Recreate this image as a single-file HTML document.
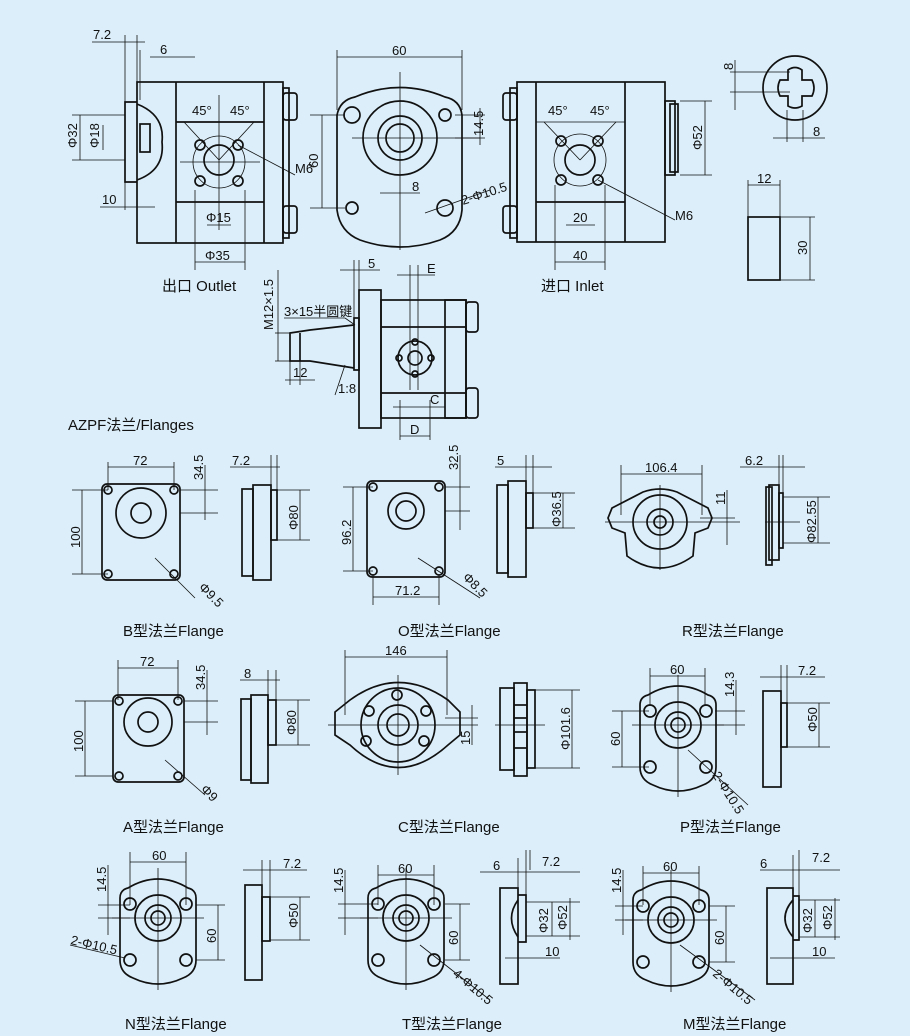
<!DOCTYPE html>
<html><head><meta charset="utf-8"><style>
html,body{margin:0;padding:0;background:#dbeef9;}
svg{display:block}
text{font-family:"Liberation Sans","Noto Sans CJK SC",sans-serif;fill:#111;font-size:13px}
.c{font-size:15px}
</style></head><body>
<svg width="910" height="1036" viewBox="0 0 910 1036" xmlns="http://www.w3.org/2000/svg">
<defs>
<g id="rf" fill="none" stroke="#111" stroke-width="1.7">
<path d="M-38,-20 Q-38,-28 -30,-30 Q0,-48 30,-30 Q38,-28 38,-20 L38,42 Q38,55 25,60 Q0,72 -25,60 Q-38,55 -38,42 Z"/>
<circle r="23"/><circle r="13"/><circle r="7"/>
<circle cx="-28" cy="-14" r="6"/><circle cx="28" cy="-14" r="6"/>
<circle cx="-28" cy="42" r="6"/><circle cx="28" cy="42" r="6"/>
<g stroke-width="0.8"><line x1="-46" y1="0" x2="46" y2="0"/><line x1="0" y1="-50" x2="0" y2="72"/></g>
</g>
</defs>
<g fill="none" stroke="#111" stroke-width="1.7">
<rect x="137" y="82" width="146" height="161"/>
<line x1="176" y1="82" x2="176" y2="243"/><line x1="264" y1="82" x2="264" y2="243"/>
<line x1="176" y1="122" x2="264" y2="122"/><line x1="176" y1="202" x2="264" y2="202"/>
<rect x="283" y="88" width="6" height="150"/>
<rect x="283" y="93" width="14" height="27" rx="3"/><rect x="283" y="206" width="14" height="27" rx="3"/>
<path d="M137,102 L125,102 L125,182 L137,182"/>
<path d="M137,104 Q165,115 162,142 Q165,170 137,180"/>
<rect x="140" y="124" width="10" height="28"/>
<circle cx="219" cy="160" r="15"/>
<circle cx="200" cy="145" r="5"/><circle cx="238" cy="145" r="5"/><circle cx="200" cy="181" r="5"/><circle cx="238" cy="181" r="5"/>
<circle cx="219" cy="162" r="26" stroke-width="0.8"/>
<path d="M337,115 Q340,100 355,97 Q400,78 445,97 Q460,100 462,115 L462,210 Q460,232 440,240 Q400,254 360,240 Q340,232 337,210 Z"/>
<circle cx="400" cy="138" r="37"/><circle cx="400" cy="138" r="22"/><circle cx="400" cy="138" r="14"/>
<circle cx="352" cy="115" r="8"/><circle cx="445" cy="115" r="6"/><circle cx="352" cy="208" r="6"/><circle cx="445" cy="208" r="8"/>
<rect x="517" y="82" width="148" height="160"/>
<line x1="536" y1="82" x2="536" y2="242"/><line x1="625" y1="82" x2="625" y2="242"/>
<line x1="536" y1="202" x2="625" y2="202"/>
<rect x="510" y="88" width="7" height="150"/>
<rect x="503" y="93" width="14" height="27" rx="3"/><rect x="503" y="206" width="14" height="27" rx="3"/>
<rect x="665" y="101" width="10" height="74"/><rect x="670" y="104" width="8" height="68"/>
<circle cx="580" cy="160" r="15"/>
<circle cx="561" cy="141" r="5"/><circle cx="598" cy="141" r="5"/><circle cx="561" cy="180" r="5"/><circle cx="598" cy="180" r="5"/>
<circle cx="580" cy="160" r="26" stroke-width="0.8"/>
<circle cx="795" cy="88" r="32"/>
<path d="M780,80 L788,80 L788,70 Q795,65 802,70 L802,80 L812,80 Q816,88 812,96 L802,96 L802,106 Q795,110 788,106 L788,96 L780,96 Q776,88 780,80 Z"/>
<rect x="748" y="217" width="32" height="63"/>
<rect x="359" y="290" width="22" height="138"/>
<rect x="381" y="300" width="85" height="118"/>
<line x1="381" y1="327" x2="466" y2="327"/><line x1="381" y1="393" x2="466" y2="393"/>
<rect x="445" y="300" width="21" height="118"/>
<rect x="466" y="302" width="12" height="30" rx="3"/><rect x="466" y="388" width="12" height="30" rx="3"/>
<rect x="354" y="318" width="5" height="52"/>
<path d="M354,325 L310,330 L290,333 L290,361 L310,361 L354,368"/>
<line x1="300" y1="333" x2="300" y2="361"/>
<circle cx="415" cy="358" r="17"/><circle cx="415" cy="358" r="7"/>
<circle cx="415" cy="342" r="3"/><circle cx="399" cy="358" r="3"/><circle cx="431" cy="358" r="3"/><circle cx="415" cy="374" r="3"/>
<rect x="102" y="484" width="78" height="96" rx="5"/>
<circle cx="141" cy="513" r="25"/><circle cx="141" cy="513" r="10"/>
<circle cx="108" cy="490" r="4"/><circle cx="174" cy="490" r="4"/><circle cx="108" cy="574" r="4"/><circle cx="174" cy="574" r="4"/>
<rect x="242" y="489" width="11" height="87"/><rect x="253" y="485" width="18" height="95"/><rect x="271" y="490" width="6" height="50"/>
<rect x="367" y="481" width="78" height="96" rx="5"/>
<circle cx="406" cy="511" r="18"/><circle cx="406" cy="511" r="10"/>
<circle cx="373" cy="487" r="4"/><circle cx="439" cy="487" r="4"/><circle cx="373" cy="571" r="4"/><circle cx="439" cy="571" r="4"/>
<rect x="497" y="485" width="11" height="88"/><rect x="508" y="481" width="18" height="96"/><rect x="526" y="493" width="7" height="35"/>
<path d="M612,508 L643,492 Q660,486 677,492 L708,508 L712,518 L708,528 L695,533 L693,556 Q660,580 627,556 L625,533 L612,528 L608,518 Z"/>
<circle cx="660" cy="522" r="27"/><circle cx="660" cy="522" r="13"/><circle cx="660" cy="522" r="6"/>
<rect x="766" y="487" width="6" height="78"/><rect x="769" y="485" width="10" height="75"/><rect x="779" y="493" width="4" height="55"/>
<rect x="113" y="695" width="71" height="87" rx="5"/>
<circle cx="148" cy="722" r="24"/><circle cx="148" cy="722" r="10"/>
<circle cx="119" cy="701" r="4"/><circle cx="178" cy="701" r="4"/><circle cx="119" cy="776" r="4"/><circle cx="178" cy="776" r="4"/>
<rect x="241" y="699" width="10" height="81"/><rect x="251" y="695" width="17" height="88"/><rect x="268" y="700" width="8" height="45"/>
<path d="M335,712 L350,700 Q398,665 448,700 L460,712 L460,735 L448,745 Q398,790 350,745 L335,735 Z"/>
<circle cx="398" cy="725" r="37"/><circle cx="398" cy="725" r="20"/><circle cx="398" cy="725" r="11"/>
<circle cx="397" cy="695" r="5"/><circle cx="369" cy="711" r="5"/><circle cx="426" cy="711" r="5"/><circle cx="366" cy="741" r="5"/><circle cx="424" cy="741" r="5"/>
<rect x="500" y="688" width="14" height="82"/><rect x="514" y="683" width="13" height="93"/><rect x="527" y="690" width="8" height="78"/>
<line x1="514" y1="705" x2="527" y2="705"/><line x1="514" y1="718" x2="527" y2="718"/><line x1="514" y1="732" x2="527" y2="732"/><line x1="514" y1="748" x2="527" y2="748"/>
<rect x="763" y="691" width="18" height="96"/><rect x="781" y="703" width="6" height="44"/>
<rect x="245" y="885" width="17" height="95"/><rect x="262" y="897" width="8" height="44"/>
<rect x="500" y="888" width="18" height="96"/><path d="M518,895 L526,895 L526,942 L518,942"/><path d="M518,900 Q505,918 518,937"/>
<rect x="767" y="888" width="26" height="96"/><path d="M793,896 L799,896 L799,940 L793,940"/><path d="M793,900 Q777,918 793,937"/>
</g>
<use href="#rf" x="158" y="918"/>
<use href="#rf" x="406" y="918"/>
<use href="#rf" x="671" y="920"/>
<use href="#rf" x="678" y="725"/>
<g stroke="#111" stroke-width="0.8" fill="none">
<line x1="92" y1="42" x2="145" y2="42"/><line x1="125" y1="35" x2="125" y2="210"/><line x1="137" y1="35" x2="137" y2="82"/>
<line x1="150" y1="57" x2="195" y2="57"/><line x1="140" y1="50" x2="140" y2="100"/>
<line x1="100" y1="207" x2="155" y2="207"/>
<line x1="72" y1="115" x2="125" y2="115"/><line x1="72" y1="160" x2="125" y2="160"/>
<line x1="80" y1="115" x2="80" y2="160"/>
<line x1="103" y1="125" x2="103" y2="150"/>
<line x1="195" y1="190" x2="195" y2="270"/><line x1="245" y1="190" x2="245" y2="270"/><line x1="195" y1="262" x2="245" y2="262"/>
<line x1="207" y1="225" x2="231" y2="225"/>
<line x1="184" y1="122" x2="219" y2="160"/><line x1="254" y1="122" x2="219" y2="160"/>
<line x1="238" y1="145" x2="295" y2="175"/>
<line x1="219" y1="95" x2="219" y2="230"/><line x1="180" y1="162" x2="260" y2="162"/>
<line x1="337" y1="57" x2="462" y2="57"/><line x1="337" y1="50" x2="337" y2="110"/><line x1="462" y1="50" x2="462" y2="110"/>
<line x1="322" y1="115" x2="322" y2="208"/><line x1="310" y1="115" x2="345" y2="115"/><line x1="310" y1="208" x2="345" y2="208"/>
<line x1="455" y1="115" x2="485" y2="115"/><line x1="455" y1="138" x2="485" y2="138"/><line x1="480" y1="108" x2="480" y2="145"/>
<line x1="380" y1="193" x2="420" y2="193"/><line x1="400" y1="72" x2="400" y2="250"/><line x1="352" y1="138" x2="480" y2="138"/>
<line x1="425" y1="213" x2="490" y2="190"/>
<line x1="544" y1="122" x2="580" y2="160"/><line x1="616" y1="122" x2="580" y2="160"/><line x1="536" y1="122" x2="625" y2="122"/>
<line x1="598" y1="180" x2="675" y2="220"/>
<line x1="555" y1="185" x2="555" y2="270"/><line x1="605" y1="185" x2="605" y2="270"/><line x1="555" y1="262" x2="605" y2="262"/>
<line x1="566" y1="225" x2="595" y2="225"/>
<line x1="680" y1="101" x2="712" y2="101"/><line x1="680" y1="175" x2="712" y2="175"/><line x1="705" y1="101" x2="705" y2="175"/>
<line x1="730" y1="72" x2="790" y2="72"/><line x1="730" y1="92" x2="790" y2="92"/><line x1="735" y1="60" x2="735" y2="110"/>
<line x1="787" y1="110" x2="787" y2="142"/><line x1="803" y1="110" x2="803" y2="142"/><line x1="773" y1="138" x2="825" y2="138"/>
<line x1="748" y1="180" x2="748" y2="217"/><line x1="780" y1="180" x2="780" y2="217"/><line x1="748" y1="185" x2="780" y2="185"/>
<line x1="780" y1="217" x2="815" y2="217"/><line x1="780" y1="280" x2="815" y2="280"/><line x1="810" y1="217" x2="810" y2="280"/>
<line x1="340" y1="270" x2="380" y2="270"/><line x1="354" y1="260" x2="354" y2="318"/><line x1="359" y1="260" x2="359" y2="290"/>
<line x1="397" y1="275" x2="435" y2="275"/><line x1="410" y1="265" x2="410" y2="390"/><line x1="418" y1="265" x2="418" y2="390"/>
<line x1="393" y1="407" x2="445" y2="407"/><line x1="400" y1="400" x2="400" y2="440"/><line x1="430" y1="400" x2="430" y2="440"/>
<line x1="400" y1="436" x2="430" y2="436"/>
<line x1="275" y1="333" x2="290" y2="333"/><line x1="275" y1="361" x2="290" y2="361"/><line x1="278" y1="270" x2="278" y2="361"/>
<line x1="290" y1="361" x2="290" y2="385"/><line x1="300" y1="361" x2="300" y2="385"/><line x1="285" y1="380" x2="315" y2="380"/>
<line x1="284" y1="318" x2="345" y2="318"/><line x1="345" y1="318" x2="355" y2="325"/>
<line x1="335" y1="395" x2="345" y2="365"/>
<line x1="108" y1="462" x2="108" y2="490"/><line x1="174" y1="462" x2="174" y2="490"/><line x1="108" y1="467" x2="174" y2="467"/>
<line x1="72" y1="490" x2="108" y2="490"/><line x1="72" y1="574" x2="108" y2="574"/><line x1="82" y1="490" x2="82" y2="574"/>
<line x1="180" y1="490" x2="218" y2="490"/><line x1="180" y1="513" x2="218" y2="513"/><line x1="205" y1="465" x2="205" y2="520"/>
<line x1="155" y1="558" x2="195" y2="598"/>
<line x1="230" y1="467" x2="280" y2="467"/><line x1="271" y1="455" x2="271" y2="485"/><line x1="277" y1="455" x2="277" y2="490"/>
<line x1="277" y1="490" x2="310" y2="490"/><line x1="277" y1="540" x2="310" y2="540"/><line x1="300" y1="490" x2="300" y2="540"/>
<line x1="343" y1="487" x2="373" y2="487"/><line x1="343" y1="571" x2="373" y2="571"/><line x1="353" y1="487" x2="353" y2="571"/>
<line x1="445" y1="487" x2="470" y2="487"/><line x1="445" y1="511" x2="470" y2="511"/><line x1="460" y1="455" x2="460" y2="530"/>
<line x1="373" y1="575" x2="373" y2="605"/><line x1="439" y1="575" x2="439" y2="605"/><line x1="373" y1="597" x2="439" y2="597"/>
<line x1="418" y1="558" x2="480" y2="598"/>
<line x1="495" y1="467" x2="552" y2="467"/><line x1="526" y1="455" x2="526" y2="481"/><line x1="533" y1="455" x2="533" y2="493"/>
<line x1="533" y1="493" x2="575" y2="493"/><line x1="533" y1="528" x2="575" y2="528"/><line x1="563" y1="493" x2="563" y2="528"/>
<line x1="621" y1="465" x2="621" y2="515"/><line x1="702" y1="465" x2="702" y2="515"/><line x1="621" y1="474" x2="702" y2="474"/>
<line x1="605" y1="522" x2="740" y2="522"/><line x1="660" y1="485" x2="660" y2="570"/>
<line x1="700" y1="518" x2="735" y2="518"/><line x1="727" y1="490" x2="727" y2="545"/>
<line x1="740" y1="467" x2="805" y2="467"/><line x1="779" y1="455" x2="779" y2="485"/><line x1="783" y1="455" x2="783" y2="493"/>
<line x1="783" y1="497" x2="830" y2="497"/><line x1="783" y1="543" x2="830" y2="543"/><line x1="818" y1="497" x2="818" y2="543"/>
<line x1="765" y1="522" x2="800" y2="522"/>
<line x1="118" y1="660" x2="118" y2="700"/><line x1="178" y1="660" x2="178" y2="700"/><line x1="118" y1="668" x2="178" y2="668"/>
<line x1="75" y1="701" x2="113" y2="701"/><line x1="75" y1="776" x2="113" y2="776"/><line x1="85" y1="701" x2="85" y2="776"/>
<line x1="184" y1="701" x2="218" y2="701"/><line x1="184" y1="722" x2="218" y2="722"/><line x1="207" y1="670" x2="207" y2="735"/>
<line x1="165" y1="760" x2="205" y2="795"/>
<line x1="240" y1="680" x2="280" y2="680"/><line x1="268" y1="670" x2="268" y2="695"/><line x1="276" y1="670" x2="276" y2="700"/>
<line x1="276" y1="700" x2="310" y2="700"/><line x1="276" y1="745" x2="310" y2="745"/><line x1="298" y1="700" x2="298" y2="745"/>
<line x1="345" y1="650" x2="345" y2="715"/><line x1="447" y1="650" x2="447" y2="715"/><line x1="345" y1="657" x2="447" y2="657"/>
<line x1="328" y1="725" x2="478" y2="725"/><line x1="398" y1="675" x2="398" y2="775"/>
<line x1="445" y1="718" x2="478" y2="718"/><line x1="472" y1="705" x2="472" y2="745"/>
<line x1="535" y1="690" x2="580" y2="690"/><line x1="535" y1="768" x2="580" y2="768"/><line x1="572" y1="690" x2="572" y2="768"/>
<line x1="495" y1="725" x2="545" y2="725"/>
<line x1="650" y1="668" x2="650" y2="705"/><line x1="705" y1="668" x2="705" y2="705"/><line x1="650" y1="676" x2="705" y2="676"/>
<line x1="612" y1="711" x2="649" y2="711"/><line x1="612" y1="767" x2="649" y2="767"/><line x1="622" y1="711" x2="622" y2="767"/>
<line x1="715" y1="711" x2="745" y2="711"/><line x1="715" y1="725" x2="745" y2="725"/><line x1="736" y1="680" x2="736" y2="735"/>
<line x1="688" y1="750" x2="748" y2="805"/>
<line x1="760" y1="677" x2="825" y2="677"/><line x1="781" y1="665" x2="781" y2="691"/><line x1="787" y1="665" x2="787" y2="703"/>
<line x1="787" y1="703" x2="830" y2="703"/><line x1="787" y1="747" x2="830" y2="747"/><line x1="819" y1="703" x2="819" y2="747"/>
<line x1="130" y1="852" x2="130" y2="905"/><line x1="186" y1="852" x2="186" y2="905"/><line x1="130" y1="862" x2="186" y2="862"/>
<line x1="98" y1="905" x2="130" y2="905"/><line x1="98" y1="918" x2="130" y2="918"/><line x1="108" y1="865" x2="108" y2="935"/>
<line x1="196" y1="905" x2="225" y2="905"/><line x1="196" y1="960" x2="225" y2="960"/><line x1="218" y1="905" x2="218" y2="960"/>
<line x1="70" y1="945" x2="125" y2="958"/>
<line x1="243" y1="870" x2="307" y2="870"/><line x1="262" y1="860" x2="262" y2="885"/><line x1="270" y1="860" x2="270" y2="897"/>
<line x1="270" y1="897" x2="310" y2="897"/><line x1="270" y1="940" x2="310" y2="940"/><line x1="300" y1="897" x2="300" y2="940"/>
<line x1="378" y1="865" x2="378" y2="905"/><line x1="434" y1="865" x2="434" y2="905"/><line x1="378" y1="875" x2="434" y2="875"/>
<line x1="338" y1="904" x2="378" y2="904"/><line x1="338" y1="918" x2="378" y2="918"/><line x1="345" y1="870" x2="345" y2="935"/>
<line x1="445" y1="904" x2="470" y2="904"/><line x1="445" y1="960" x2="470" y2="960"/><line x1="460" y1="904" x2="460" y2="960"/>
<line x1="420" y1="945" x2="490" y2="1000"/>
<line x1="480" y1="872" x2="580" y2="872"/><line x1="518" y1="858" x2="518" y2="888"/><line x1="526" y1="850" x2="526" y2="895"/><line x1="530" y1="850" x2="530" y2="870"/>
<line x1="526" y1="902" x2="580" y2="902"/><line x1="526" y1="936" x2="580" y2="936"/><line x1="552" y1="902" x2="552" y2="936"/><line x1="570" y1="898" x2="570" y2="940"/>
<line x1="505" y1="958" x2="560" y2="958"/>
<line x1="643" y1="866" x2="643" y2="905"/><line x1="699" y1="866" x2="699" y2="905"/><line x1="643" y1="873" x2="699" y2="873"/>
<line x1="615" y1="906" x2="643" y2="906"/><line x1="615" y1="920" x2="643" y2="920"/><line x1="623" y1="870" x2="623" y2="935"/>
<line x1="709" y1="906" x2="735" y2="906"/><line x1="709" y1="962" x2="735" y2="962"/><line x1="726" y1="906" x2="726" y2="962"/>
<line x1="680" y1="945" x2="755" y2="1000"/>
<line x1="760" y1="870" x2="840" y2="870"/><line x1="793" y1="855" x2="793" y2="888"/><line x1="799" y1="850" x2="799" y2="896"/>
<line x1="799" y1="900" x2="840" y2="900"/><line x1="799" y1="937" x2="840" y2="937"/><line x1="815" y1="900" x2="815" y2="937"/><line x1="835" y1="898" x2="835" y2="940"/>
<line x1="770" y1="958" x2="835" y2="958"/>
</g>
<text x="93" y="39">7.2</text><text x="160" y="54">6</text><text x="102" y="204">10</text>
<text transform="translate(77,148) rotate(-90)">Φ32</text><text transform="translate(99,148) rotate(-90)">Φ18</text>
<text x="192" y="115">45°</text><text x="230" y="115">45°</text><text x="295" y="173">M6</text>
<text x="206" y="222">Φ15</text><text x="205" y="260">Φ35</text>
<text class="c" x="162" y="291">出口 Outlet</text>
<text x="392" y="55">60</text><text transform="translate(318,168) rotate(-90)">60</text>
<text transform="translate(483,136) rotate(-90)">14.5</text><text x="412" y="191">8</text>
<text transform="translate(463,205) rotate(-18)">2-Φ10.5</text>
<text x="548" y="115">45°</text><text x="590" y="115">45°</text><text x="675" y="220">M6</text>
<text x="573" y="222">20</text><text x="573" y="260">40</text><text transform="translate(702,150) rotate(-90)">Φ52</text>
<text class="c" x="541" y="291">进口 Inlet</text>
<text transform="translate(733,70) rotate(-90)">8</text><text x="813" y="136">8</text>
<text x="757" y="183">12</text><text transform="translate(807,255) rotate(-90)">30</text>
<text x="368" y="268">5</text><text x="427" y="273">E</text>
<text transform="translate(273,330) rotate(-90)">M12×1.5</text>
<text x="284" y="316">3×15半圆键</text><text x="293" y="377">12</text><text x="338" y="393">1:8</text>
<text x="430" y="404">C</text><text x="410" y="434">D</text>
<text class="c" x="68" y="430">AZPF法兰/Flanges</text>
<text x="133" y="465">72</text><text transform="translate(203,480) rotate(-90)">34.5</text>
<text transform="translate(80,548) rotate(-90)">100</text><text transform="translate(198,588) rotate(45)">Φ9.5</text>
<text x="232" y="465">7.2</text><text transform="translate(298,530) rotate(-90)">Φ80</text>
<text class="c" x="123" y="636">B型法兰Flange</text>
<text transform="translate(458,470) rotate(-90)">32.5</text><text transform="translate(351,545) rotate(-90)">96.2</text>
<text x="395" y="595">71.2</text><text transform="translate(462,578) rotate(45)">Φ8.5</text>
<text x="497" y="465">5</text><text transform="translate(561,527) rotate(-90)">Φ36.5</text>
<text class="c" x="398" y="636">O型法兰Flange</text>
<text x="645" y="472">106.4</text><text x="745" y="465">6.2</text>
<text transform="translate(725,505) rotate(-90)">11</text><text transform="translate(816,543) rotate(-90)">Φ82.55</text>
<text class="c" x="682" y="636">R型法兰Flange</text>
<text x="140" y="666">72</text><text transform="translate(205,690) rotate(-90)">34.5</text>
<text transform="translate(83,752) rotate(-90)">100</text><text transform="translate(200,790) rotate(45)">Φ9</text>
<text x="244" y="678">8</text><text transform="translate(296,735) rotate(-90)">Φ80</text>
<text class="c" x="123" y="832">A型法兰Flange</text>
<text x="385" y="655">146</text><text transform="translate(470,745) rotate(-90)">15</text>
<text transform="translate(570,750) rotate(-90)">Φ101.6</text>
<text class="c" x="398" y="832">C型法兰Flange</text>
<text x="670" y="674">60</text><text transform="translate(734,697) rotate(-90)">14.3</text>
<text transform="translate(620,746) rotate(-90)">60</text><text transform="translate(712,775) rotate(58)">2-Φ10.5</text>
<text x="798" y="675">7.2</text><text transform="translate(817,732) rotate(-90)">Φ50</text>
<text class="c" x="680" y="832">P型法兰Flange</text>
<text x="152" y="860">60</text><text transform="translate(106,892) rotate(-90)">14.5</text>
<text transform="translate(216,943) rotate(-90)">60</text><text transform="translate(70,944) rotate(13)">2-Φ10.5</text>
<text x="283" y="868">7.2</text><text transform="translate(298,928) rotate(-90)">Φ50</text>
<text class="c" x="125" y="1029">N型法兰Flange</text>
<text x="398" y="873">60</text><text transform="translate(343,893) rotate(-90)">14.5</text>
<text transform="translate(458,945) rotate(-90)">60</text><text transform="translate(452,975) rotate(40)">4-Φ10.5</text>
<text x="493" y="870">6</text><text x="542" y="866">7.2</text>
<text transform="translate(548,933) rotate(-90)">Φ32</text><text transform="translate(567,930) rotate(-90)">Φ52</text><text x="545" y="956">10</text>
<text class="c" x="402" y="1029">T型法兰Flange</text>
<text x="663" y="871">60</text><text transform="translate(621,893) rotate(-90)">14.5</text>
<text transform="translate(724,945) rotate(-90)">60</text><text transform="translate(712,975) rotate(40)">2-Φ10.5</text>
<text x="760" y="868">6</text><text x="812" y="862">7.2</text>
<text transform="translate(812,933) rotate(-90)">Φ32</text><text transform="translate(832,930) rotate(-90)">Φ52</text><text x="812" y="956">10</text>
<text class="c" x="683" y="1029">M型法兰Flange</text>
</svg>
</body></html>
